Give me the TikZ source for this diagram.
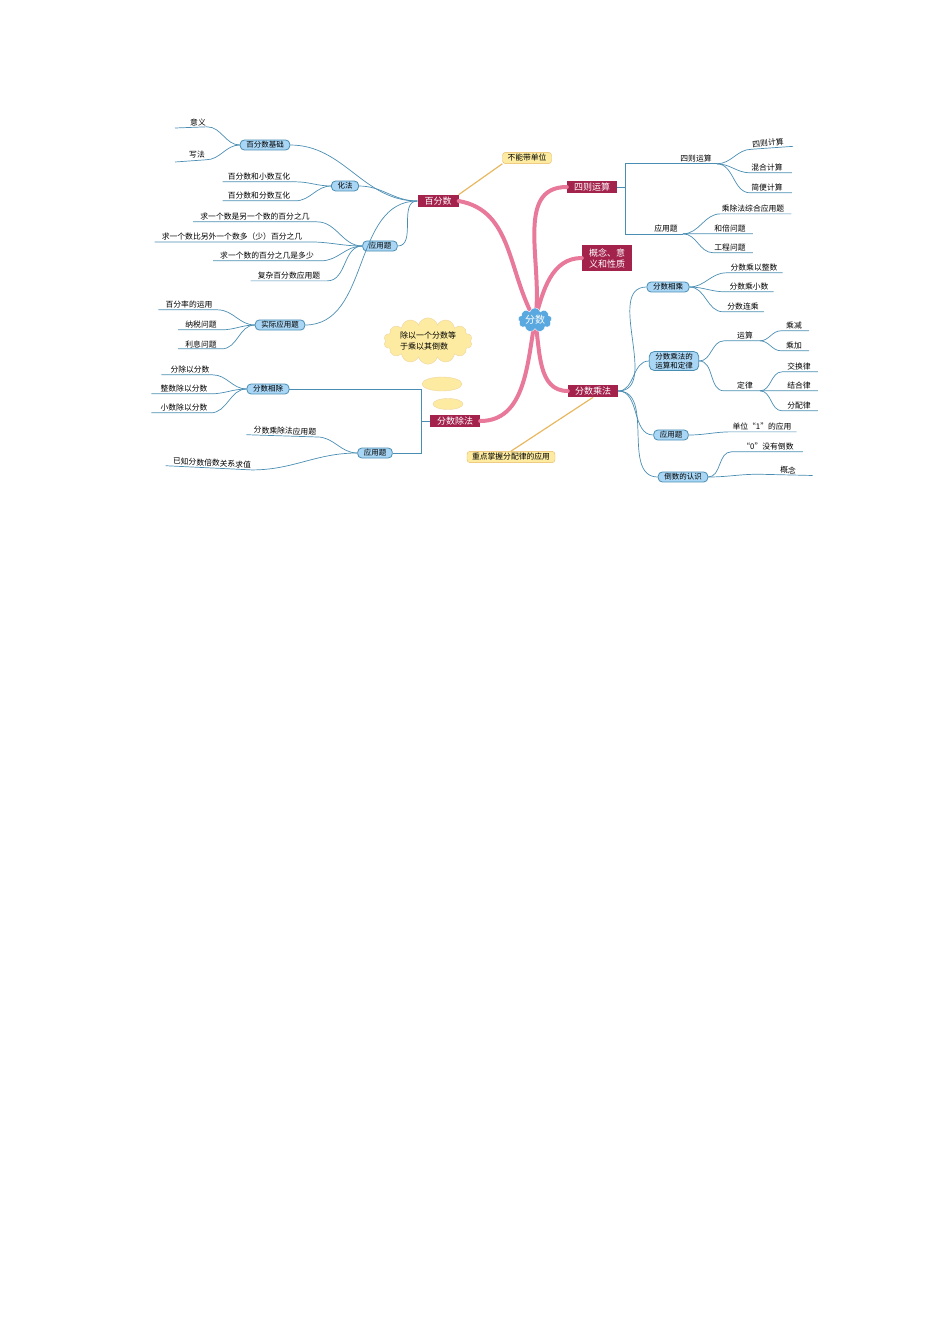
\documentclass[tikz,border=0pt]{standalone}
\usepackage{fontspec}
\setmainfont{Noto Sans CJK SC}
\usetikzlibrary{shapes.symbols,shapes.geometric}
\definecolor{bl}{HTML}{4A8DB2}
\definecolor{blf}{HTML}{A9D6F5}
\definecolor{cr}{HTML}{A3234D}
\definecolor{pk}{HTML}{E8799B}
\definecolor{yf}{HTML}{FCEBA0}
\definecolor{yb}{HTML}{E8B860}
\definecolor{cb}{HTML}{5AA8E0}
\begin{document}
\begin{tikzpicture}[x=1pt,y=-1pt,
 main/.style={fill=cr,text=white,font=\fontsize{9}{10}\selectfont,inner xsep=7pt,inner ysep=2pt},
 bbox/.style={draw=bl,fill=blf,rounded corners=4pt,font=\fontsize{7.5}{9}\selectfont,inner xsep=6pt,inner ysep=1.5pt,line width=0.8pt},
 leaf/.style={font=\fontsize{7.8}{9}\selectfont,inner sep=1pt},
 call/.style={draw=yb,fill=yf,rounded corners=3pt,font=\fontsize{7.8}{9}\selectfont,inner xsep=5pt,inner ysep=2pt},
 ln/.style={draw=bl,line width=0.7pt},
 pkb/.style={draw=pk,line width=4pt,line cap=round}]
\useasboundingbox (0,0) rectangle (950,1344);
% pink branches first
\coordinate (c0) at (535,320);
\node[main] (bfs) at (438,201) {百分数};
\node[main] (szys) at (592,187) {四则运算};
\node[main,align=center,inner ysep=3pt,font=\fontsize{9}{11}\selectfont] (gn) at (607,258) {概念、意\\义和性质};
\node[main] (fscf) at (593,391) {分数乘法};
\node[main] (fscuf) at (455,421) {分数除法};
\draw[pkb] (c0) to[out=120,in=-10] (bfs.east);
\draw[pkb] (c0) to[out=80,in=180] (szys.west);
\draw[pkb] (c0) to[out=75,in=180] (gn.west);
\draw[pkb] (c0) to[out=-80,in=180] (fscf.west);
\draw[pkb] (c0) to[out=-100,in=0] (fscuf.east);
\node[cloud,cloud puffs=9,aspect=1.8,fill=cb,draw=white,text=white,font=\fontsize{10}{12}\selectfont,inner sep=1pt] (ctr) at (c0) {分数};
% callouts
\node[call] (k1) at (527,158) {不能带单位};
\node[call] (k2) at (511,457) {重点掌握分配律的应用};
\draw[draw=yb,line width=1.2pt] (k1.south west) -- (bfs.north east);
\draw[draw=yb,line width=1.2pt] (k2.north) -- (fscf.south);
\node[cloud,cloud puffs=14,aspect=2.6,fill=yf,draw=yb!60,font=\fontsize{8}{11}\selectfont,align=left,inner sep=2pt] (cl) at (428,341) {除以一个分数等\\于乘以其倒数};
\node[ellipse,fill=yf,draw=yb!60,minimum width=40pt,minimum height=14pt] (cs1) at (442,384) {};
\node[ellipse,fill=yf,draw=yb!60,minimum width=30pt,minimum height=11pt] (cs2) at (448,404) {};
% ---- 百分数 left
\node[bbox] (b1) at (265,145) {百分数基础};
\node[bbox] (b2) at (345,186) {化法};
\node[bbox] (b3) at (380,246) {应用题};
\node[bbox] (b4) at (280,325) {实际应用题};
\foreach \n in {b1,b2,b3,b4} \draw[ln] (bfs.west) to[out=180,in=0] (\n.east);
\node[leaf] (l11) at (198,122) {意义};
\node[leaf] (l12) at (197,155) {写法};
\coordinate (e11) at (175,128); \coordinate (e12) at (175,162);
\draw[ln] (b1.west) to[out=180,in=0] (l11.south east) -- (e11);
\draw[ln] (b1.west) to[out=180,in=0] (l12.south east) -- (e12);
\node[leaf] (l21) at (259,177) {百分数和小数互化};
\node[leaf] (l22) at (259,196) {百分数和分数互化};
\foreach \n in {l21,l22} \draw[ln] (b2.west) to[out=180,in=0] ([xshift=4pt]\n.south east) -- ([xshift=-4pt]\n.south west);
\node[leaf] (l31) at (255,217) {求一个数是另一个数的百分之几};
\node[leaf] (l32) at (232,237) {求一个数比另外一个数多（少）百分之几};
\node[leaf] (l33) at (267,256) {求一个数的百分之几是多少};
\node[leaf] (l34) at (289,276) {复杂百分数应用题};
\foreach \n in {l31,l32,l33,l34} \draw[ln] (b3.west) to[out=180,in=0] ([xshift=6pt]\n.south east) -- ([xshift=-6pt]\n.south west);
\node[leaf] (l41) at (189,305) {百分率的运用};
\node[leaf] (l42) at (201,325) {纳税问题};
\node[leaf] (l43) at (201,344) {利息问题};
\foreach \n in {l41,l42,l43} \draw[ln] (b4.west) to[out=180,in=0] ([xshift=4pt]\n.south east) -- ([xshift=-6pt]\n.south west);
% ---- 分数除法 left
\node[bbox] (d1) at (268,389) {分数相除};
\node[bbox] (d2) at (375,453) {应用题};
\draw[ln] (fscuf.west) -- ++(-8,0) |- (d1.east);
\draw[ln] (fscuf.west) -- ++(-8,0) |- (d2.east);
\node[leaf] (m1) at (190,370) {分除以分数};
\node[leaf] (m2) at (184,389) {整数除以分数};
\node[leaf] (m3) at (184,408) {小数除以分数};
\foreach \n in {m1,m2,m3} \draw[ln] (d1.west) to[out=180,in=0] ([xshift=2pt]\n.south east) -- ([xshift=-8pt]\n.south west);
\node[leaf,rotate=-2] (m4) at (285,431) {分数乘除法应用题};
\node[leaf,rotate=-3] (m5) at (212,463) {已知分数倍数关系求值};
\draw[ln] (d2.west) to[out=180,in=0] (m4.south east) -- ([xshift=-6pt]m4.south west);
\draw[ln] (d2.west) to[out=180,in=0] (m5.south east) -- ([xshift=-6pt]m5.south west);
% ---- 四则运算 right
\node[leaf] (s1) at (696,159) {四则运算};
\node[leaf] (s2) at (666,229) {应用题};
\draw[ln] (szys.east) -- ++(8,0) |- ([xshift=-18pt]s1.south west) -- ([xshift=4pt]s1.south east);
\draw[ln] (szys.east) -- ++(8,0) |- ([xshift=-18pt]s2.south west) -- ([xshift=4pt]s2.south east);
\node[leaf,rotate=5] (s11) at (768,143) {四则计算};
\node[leaf] (s12) at (767,168) {混合计算};
\node[leaf] (s13) at (767,188) {简便计算};
\foreach \n in {s11,s12,s13} \draw[ln] ([xshift=4pt]s1.south east) to[out=0,in=180] (\n.south west) -- ([xshift=8pt]\n.south east);
\node[leaf] (s21) at (753,209) {乘除法综合应用题};
\node[leaf] (s22) at (730,229) {和倍问题};
\node[leaf] (s23) at (730,248) {工程问题};
\foreach \n in {s21,s22,s23} \draw[ln] ([xshift=4pt]s2.south east) to[out=0,in=180] (\n.south west) -- ([xshift=6pt]\n.south east);
% ---- 分数乘法 right
\node[bbox] (f1) at (668,287) {分数相乘};
\node[bbox,align=left,rounded corners=5pt] (f2) at (674,361) {分数乘法的\\运算和定律};
\node[bbox] (f3) at (671,435) {应用题};
\node[bbox] (f4) at (683,477) {倒数的认识};
\foreach \n in {f1,f2,f3,f4} \draw[ln] (fscf.east) to[out=0,in=180] (\n.west);
\node[leaf] (f11) at (754,268) {分数乘以整数};
\node[leaf] (f12) at (749,287) {分数乘小数};
\node[leaf] (f13) at (743,307) {分数连乘};
\foreach \n in {f11,f12,f13} \draw[ln] (f1.east) to[out=0,in=180] ([xshift=-3pt]\n.south west) -- ([xshift=4pt]\n.south east);
\node[leaf] (f21) at (745,336) {运算};
\node[leaf] (f22) at (745,386) {定律};
\foreach \n in {f21,f22} \draw[ln] (f2.east) to[out=0,in=180] ([xshift=-12pt]\n.south west) -- ([xshift=6pt]\n.south east);
\node[leaf] (g1) at (794,326) {乘减};
\node[leaf] (g2) at (794,346) {乘加};
\foreach \n in {g1,g2} \draw[ln] ([xshift=6pt]f21.south east) to[out=0,in=180] ([xshift=-4pt]\n.south west) -- ([xshift=6pt]\n.south east);
\node[leaf] (g3) at (799,367) {交换律};
\node[leaf] (g4) at (799,386) {结合律};
\node[leaf] (g5) at (799,406) {分配律};
\foreach \n in {g3,g4,g5} \draw[ln] ([xshift=6pt]f22.south east) to[out=0,in=180] ([xshift=-4pt]\n.south west) -- ([xshift=6pt]\n.south east);
\node[leaf] (f31) at (762,427) {单位“1”的应用};
\draw[ln] (f3.east) to[out=0,in=180] (f31.south west) -- ([xshift=4pt]f31.south east);
\node[leaf] (f41) at (768,447) {“0”没有倒数};
\node[leaf,rotate=-4] (f42) at (788,470) {概念};
\draw[ln] (f4.east) to[out=0,in=180] ([xshift=-10pt]f41.south west) -- ([xshift=8pt]f41.south east);
\draw[ln] (f4.east) to[out=0,in=180] ([xshift=-20pt]f42.south west) -- ([xshift=16pt]f42.south east);
\end{tikzpicture}
\end{document}
